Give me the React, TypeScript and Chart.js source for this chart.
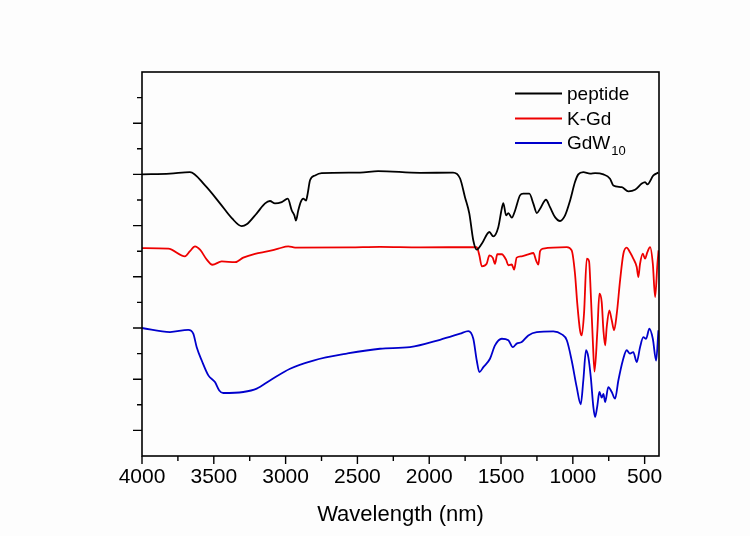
import React, { useEffect, useRef } from 'react';
import { Chart, registerables } from 'chart.js';

Chart.register(...registerables);

// ---- Data (wavenumber in cm-1, transmittance in arbitrary offset units) ----
const SERIES_NAMES = ['peptide', 'K-Gd', 'GdW₁₀'];
const SERIES_COLORS = ['#000000', '#ee0000', '#0000cc'];

const PEPTIDE_WN = [4000, 3805, 3666, 3561, 3457, 3373, 3306, 3271, 3201, 3143, 3109, 3074, 3027, 2985, 2957, 2939, 2928, 2912, 2895, 2877, 2858, 2846, 2830, 2795, 2749, 2482, 2356, 2064, 1834, 1785, 1751, 1721, 1693, 1669, 1634, 1581, 1554, 1519, 1495, 1484, 1465, 1449, 1425, 1402, 1368, 1345, 1303, 1275, 1251, 1228, 1187, 1159, 1124, 1089, 1054, 1019, 985, 962, 927, 880, 845, 787, 741, 718, 659, 613, 567, 520, 497, 481, 439, 404];
const PEPTIDE_T = [11.0, 11.03, 11.09, 10.57, 9.87, 9.28, 8.98, 9.05, 9.48, 9.87, 9.96, 9.87, 9.92, 10.05, 9.59, 9.40, 9.20, 9.59, 9.92, 10.05, 9.98, 10.26, 10.77, 10.96, 11.05, 11.07, 11.13, 11.06, 11.07, 10.84, 10.11, 9.48, 8.42, 8.06, 8.29, 8.75, 8.58, 8.94, 9.66, 9.88, 9.40, 9.49, 9.31, 9.59, 10.18, 10.25, 10.25, 9.86, 9.49, 9.66, 10.01, 9.72, 9.33, 9.18, 9.40, 9.98, 10.70, 11.0, 11.09, 11.03, 11.05, 11.0, 10.83, 10.57, 10.50, 10.34, 10.40, 10.64, 10.70, 10.61, 10.96, 11.07];

const KGD_WN = [4000, 3817, 3701, 3666, 3631, 3596, 3549, 3510, 3445, 3352, 3295, 3213, 3120, 3051, 2981, 2934, 2551, 2343, 2064, 1669, 1651, 1634, 1600, 1581, 1558, 1542, 1526, 1495, 1465, 1449, 1425, 1409, 1391, 1356, 1310, 1275, 1256, 1240, 1228, 1205, 1042, 1008, 985, 969, 950, 938, 922, 903, 887, 875, 861, 849, 829, 815, 799, 787, 775, 764, 746, 729, 713, 694, 671, 648, 625, 602, 579, 555, 544, 532, 513, 497, 481, 462, 443, 427, 411, 403];
const KGD_T = [8.12, 8.10, 7.80, 8.00, 8.19, 8.06, 7.67, 7.47, 7.60, 7.57, 7.75, 7.90, 8.00, 8.10, 8.19, 8.14, 8.15, 8.17, 8.15, 8.16, 7.84, 7.41, 7.51, 7.84, 7.75, 7.51, 7.88, 7.88, 7.67, 7.45, 7.48, 7.28, 7.75, 7.80, 7.88, 7.93, 7.64, 7.48, 8.00, 8.10, 8.16, 8.03, 7.12, 5.95, 4.91, 4.71, 5.57, 7.71, 7.61, 6.34, 4.52, 3.30, 4.91, 6.34, 6.01, 4.91, 4.32, 5.04, 5.69, 5.30, 4.91, 5.56, 6.86, 7.90, 8.14, 7.96, 7.71, 7.38, 6.99, 7.51, 7.90, 7.71, 7.96, 8.16, 7.51, 6.21, 7.51, 8.03];

const GDW_WN = [4000, 3805, 3678, 3643, 3619, 3584, 3538, 3492, 3462, 3434, 3295, 3201, 3109, 2969, 2807, 2574, 2343, 2134, 1925, 1785, 1728, 1693, 1669, 1651, 1623, 1577, 1542, 1495, 1449, 1418, 1391, 1356, 1310, 1251, 1136, 1077, 1042, 1008, 973, 945, 927, 908, 892, 875, 857, 845, 829, 815, 799, 787, 775, 753, 729, 706, 683, 652, 625, 602, 579, 555, 532, 509, 490, 467, 443, 420, 404];
const GDW_T = [5.00, 4.84, 4.93, 4.78, 4.25, 3.73, 3.15, 2.89, 2.56, 2.46, 2.50, 2.63, 2.95, 3.41, 3.73, 4.00, 4.19, 4.25, 4.54, 4.78, 4.88, 4.58, 3.73, 3.28, 3.47, 3.80, 4.32, 4.58, 4.52, 4.25, 4.39, 4.45, 4.71, 4.84, 4.87, 4.75, 4.52, 3.73, 2.69, 2.02, 2.95, 4.13, 3.86, 3.08, 1.91, 1.52, 1.98, 2.50, 2.28, 2.43, 2.11, 2.69, 2.50, 2.24, 2.95, 3.73, 4.13, 4.00, 4.06, 3.67, 4.25, 4.64, 4.58, 4.97, 4.58, 3.73, 4.91];

const X_TICKS = [4000, 3750, 3500, 3250, 3000, 2750, 2500, 2250, 2000, 1750, 1500, 1250, 1000, 750, 500];
const X_LABEL_STEP = 500;
const X_TITLE = 'Wavelength (nm)';
const Y_MIN = 0;
const Y_MAX = 15;

const FONT = "'Liberation Sans', Arial, Helvetica, sans-serif";

function toPoints(xs: number[], ys: number[]) {
  return xs.map((x, i) => ({ x, y: ys[i] }));
}

const framePlugin = {
  id: 'frameAndLegend',
  afterDatasetsDraw(chart: any) {
    const { ctx, chartArea } = chart;
    const { left, right, top, bottom } = chartArea;
    const xs = chart.scales.x;
    const ys = chart.scales.y;
    ctx.save();
    ctx.strokeStyle = '#000';
    ctx.lineWidth = 1.6;
    ctx.strokeRect(left, top, right - left, bottom - top);

    ctx.lineWidth = 1.4;
    ctx.beginPath();
    for (const t of xs.ticks) {
      const v = t.value;
      const px = xs.getPixelForValue(v);
      const len = v % X_LABEL_STEP === 0 ? 8 : 5;
      ctx.moveTo(px, bottom);
      ctx.lineTo(px, bottom + len);
    }
    for (const t of ys.ticks) {
      const v = t.value;
      if (v <= Y_MIN || v >= Y_MAX) continue;
      const py = ys.getPixelForValue(v);
      const len = v % 2 === 1 ? 9 : 5;
      ctx.moveTo(left - len, py);
      ctx.lineTo(left, py);
    }
    ctx.stroke();

    // legend
    const lx0 = 515;
    const lx1 = 562;
    const rows = [93.5, 118.5, 143];
    chart.data.datasets.forEach((ds: any, i: number) => {
      const y = rows[i];
      ctx.strokeStyle = ds.borderColor;
      ctx.lineWidth = 2;
      ctx.beginPath();
      ctx.moveTo(lx0, y);
      ctx.lineTo(lx1, y);
      ctx.stroke();
      const label: string = ds.label;
      const m = label.match(/^(.*?)([₀-₉]+)$/);
      ctx.fillStyle = '#000';
      ctx.textBaseline = 'middle';
      ctx.textAlign = 'left';
      ctx.font = `19px ${FONT}`;
      if (m) {
        const main = m[1];
        const sub = m[2].split('').map((c) => String(c.charCodeAt(0) - 0x2080)).join('');
        ctx.fillText(main, 567, y + 1);
        const w = ctx.measureText(main).width;
        ctx.font = `13px ${FONT}`;
        ctx.fillText(sub, 567 + w + 1, y + 8);
      } else {
        ctx.fillText(label, 567, y + 1);
      }
    });
    ctx.restore();
  },
};

export default function App() {
  const ref = useRef<HTMLCanvasElement | null>(null);
  useEffect(() => {
    if (!ref.current) return;
    const chart = new Chart(ref.current, {
      type: 'line',
      data: {
        datasets: [
          { label: SERIES_NAMES[0], data: toPoints(PEPTIDE_WN, PEPTIDE_T), borderColor: SERIES_COLORS[0] },
          { label: SERIES_NAMES[1], data: toPoints(KGD_WN, KGD_T), borderColor: SERIES_COLORS[1] },
          { label: SERIES_NAMES[2], data: toPoints(GDW_WN, GDW_T), borderColor: SERIES_COLORS[2] },
        ],
      },
      options: {
        animation: false,
        responsive: false,
        devicePixelRatio: 1,
        layout: { padding: { left: 0, right: 91, top: 72, bottom: 0 } },
        plugins: { legend: { display: false }, tooltip: { enabled: false } },
        elements: {
          point: { radius: 0 },
          line: { borderWidth: 1.8, cubicInterpolationMode: 'monotone', fill: false },
        },
        scales: {
          x: {
            type: 'linear',
            reverse: true,
            min: 400,
            max: 4000,
            afterBuildTicks: (s: any) => {
              s.ticks = X_TICKS.map((v) => ({ value: v }));
            },
            afterFit: (s: any) => {
              s.height = 80;
            },
            ticks: {
              autoSkip: false,
              maxRotation: 0,
              padding: 1,
              color: '#000',
              font: { family: FONT, size: 21 },
              callback: (v: any) => (Number(v) % X_LABEL_STEP === 0 ? String(v) : ''),
            },
            grid: {
              display: true,
              drawOnChartArea: false,
              drawTicks: true,
              tickLength: 8,
              tickColor: 'rgba(0,0,0,0)',
              color: 'rgba(0,0,0,0)',
            },
            border: { display: false },
            title: {
              display: true,
              text: X_TITLE,
              color: '#000',
              font: { family: FONT, size: 22 },
              padding: { top: 0, bottom: 8 },
            },
          },
          y: {
            type: 'linear',
            min: Y_MIN,
            max: Y_MAX,
            afterFit: (s: any) => {
              s.width = 142;
            },
            ticks: { display: false, stepSize: 1 },
            grid: { display: false },
            border: { display: false },
          },
        },
      },
      plugins: [framePlugin],
    } as any);
    return () => chart.destroy();
  }, []);
  return (
    <div style={{ position: 'absolute', left: 0, top: 0, width: 750, height: 536, background: '#fdfdfd' }}>
      <canvas ref={ref} width={750} height={536} />
    </div>
  );
}
